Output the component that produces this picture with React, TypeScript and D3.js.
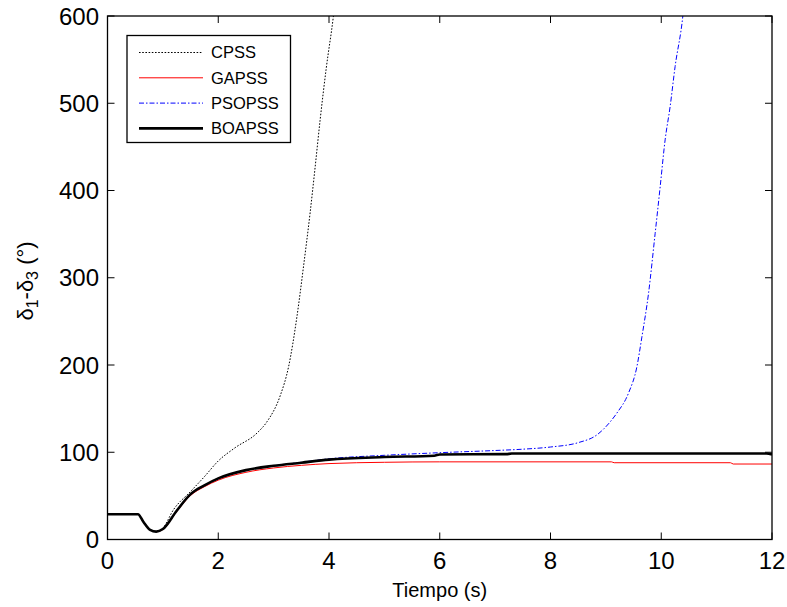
import React from "react";
import * as d3 from "d3";

const xTicks = [0, 2, 4, 6, 8, 10, 12];
const yTicks = [0, 100, 200, 300, 400, 500, 600];

// CPSS (dotted black)
const cpssT = [0, 0.55, 0.65, 0.77, 0.88, 1.0, 1.19, 1.5, 1.75, 2.0, 2.3, 2.7, 2.88, 3.12, 3.27, 3.42, 3.54, 3.66, 3.75, 3.84, 3.95, 4.08, 4.15];
const cpssV = [29, 29, 20, 11, 9, 13, 34, 55, 72, 90, 105, 122, 135, 165, 198, 255, 313, 375, 427, 481, 540, 600, 640];

// GAPSS (red)
const gapssT = [0, 0.55, 0.65, 0.77, 0.88, 1.0, 1.25, 1.5, 1.75, 2.0, 2.5, 3.0, 3.5, 4.0, 5.0, 6.0, 9.1, 9.15, 11.25, 11.3, 12];
const gapssV = [29, 29, 20, 11, 9, 11.5, 32, 50.5, 60.5, 68, 77, 82, 85, 87, 88.5, 89, 89, 88, 88, 86.5, 86.5];

// PSOPSS (blue dash-dot)
const psoT = [0, 0.55, 0.65, 0.77, 0.88, 1.0, 1.25, 1.5, 1.75, 2.0, 2.5, 3.0, 3.5, 4.0, 5.0, 6.0, 7.0, 7.5, 8.0, 8.5, 8.84, 9.08, 9.2, 9.41, 9.56, 9.65, 9.77, 9.89, 9.98, 10.07, 10.16, 10.25, 10.39, 10.45];
const psoV = [29, 29, 20, 11, 9, 12, 32.5, 51.5, 61.5, 69.5, 79, 84.5, 88.5, 92.5, 96.5, 99.5, 102, 103.5, 106, 111, 120, 135, 145, 168, 198, 232, 282, 351, 404, 458, 496, 542, 600, 640];

// BOAPSS (thick black)
const boaT = [0, 0.55, 0.65, 0.77, 0.88, 1.0, 1.25, 1.5, 1.75, 2.0, 2.5, 3.0, 3.5, 4.0, 5.0, 5.9, 6.0, 7.2, 7.3, 11.9, 12];
const boaV = [29, 29, 20, 11, 9, 12, 33, 52, 62, 70, 79.5, 84.5, 88, 91.5, 94.5, 96, 97.5, 97.8, 98.5, 98.5, 97.5];

const seriesNames = ["CPSS", "GAPSS", "PSOPSS", "BOAPSS"];

const W = 787;
const H = 607;
const left = 107.5;
const right = 772;
const top = 16;
const bottom = 539.5;
const font = "'Liberation Sans', Arial, sans-serif";

export default function App() {
  const x = d3.scaleLinear().domain([0, 12]).range([left, right]);
  const y = d3.scaleLinear().domain([0, 600]).range([bottom, top]);

  const line = d3
    .line<[number, number]>()
    .x((d) => x(d[0]))
    .y((d) => y(d[1]))
    .curve(d3.curveMonotoneX);

  const zip = (t: number[], v: number[]) => t.map((ti, i) => [ti, v[i]] as [number, number]);

  const styles = [
    { stroke: "#000", width: 1, dash: "1.6,1.6" },
    { stroke: "#ff0000", width: 1, dash: "" },
    { stroke: "#0000ff", width: 1, dash: "5,2,1.5,2" },
    { stroke: "#000", width: 2.6, dash: "" },
  ];
  const data = [zip(cpssT, cpssV), zip(gapssT, gapssV), zip(psoT, psoV), zip(boaT, boaV)];

  const tickLen = 7;

  return (
    <svg
      width={W}
      height={H}
      style={{ position: "absolute", left: 0, top: 0, background: "#fff" }}
      fontFamily={font}
    >
      <defs>
        <clipPath id="plot">
          <rect x={left} y={top} width={right - left} height={bottom - top} />
        </clipPath>
      </defs>
      <rect x={0} y={0} width={W} height={H} fill="#fff" />

      {/* curves */}
      <g clipPath="url(#plot)">
        {data.map((d, i) => (
          <path
            key={i}
            d={line(d) || ""}
            fill="none"
            stroke={styles[i].stroke}
            strokeWidth={styles[i].width}
            strokeDasharray={styles[i].dash || undefined}
            strokeLinejoin="round"
          />
        ))}
      </g>

      {/* axes box */}
      <rect x={left} y={top} width={right - left} height={bottom - top} fill="none" stroke="#000" strokeWidth={1.3} />

      {/* x ticks */}
      {xTicks.map((t) => (
        <g key={"x" + t}>
          <line x1={x(t)} x2={x(t)} y1={bottom} y2={bottom - tickLen} stroke="#000" strokeWidth={1} />
          <line x1={x(t)} x2={x(t)} y1={top} y2={top + tickLen} stroke="#000" strokeWidth={1} />
          <text x={x(t)} y={569} textAnchor="middle" fontSize={24} fill="#000">
            {t}
          </text>
        </g>
      ))}

      {/* y ticks */}
      {yTicks.map((t) => (
        <g key={"y" + t}>
          <line x1={left} x2={left + tickLen} y1={y(t)} y2={y(t)} stroke="#000" strokeWidth={1} />
          <line x1={right} x2={right - tickLen} y1={y(t)} y2={y(t)} stroke="#000" strokeWidth={1} />
          <text x={99} y={y(t)} dy="0.36em" textAnchor="end" fontSize={24} fill="#000">
            {t}
          </text>
        </g>
      ))}

      {/* axis labels */}
      <text x={(left + right) / 2} y={597} textAnchor="middle" fontSize={20} fill="#000">
        Tiempo (s)
      </text>
      <text transform={`translate(33,281) rotate(-90)`} textAnchor="middle" fontSize={22} fill="#000">
        δ<tspan fontSize={16} dy={5}>1</tspan>
        <tspan dy={-5}>-δ</tspan>
        <tspan fontSize={16} dy={5}>3</tspan>
        <tspan dy={-5}> (°)</tspan>
      </text>

      {/* legend */}
      <g>
        <rect x={127} y={35.5} width={163.5} height={107} fill="#fff" stroke="#000" strokeWidth={1.3} />
        {seriesNames.map((name, i) => {
          const ly = 52.5 + i * 25.3;
          return (
            <g key={name}>
              <line
                x1={139}
                x2={203}
                y1={ly}
                y2={ly}
                stroke={styles[i].stroke}
                strokeWidth={styles[i].width}
                strokeDasharray={styles[i].dash || undefined}
              />
              <text x={211} y={ly} dy="0.36em" fontSize={16.5} fill="#000">
                {name}
              </text>
            </g>
          );
        })}
      </g>
    </svg>
  );
}
